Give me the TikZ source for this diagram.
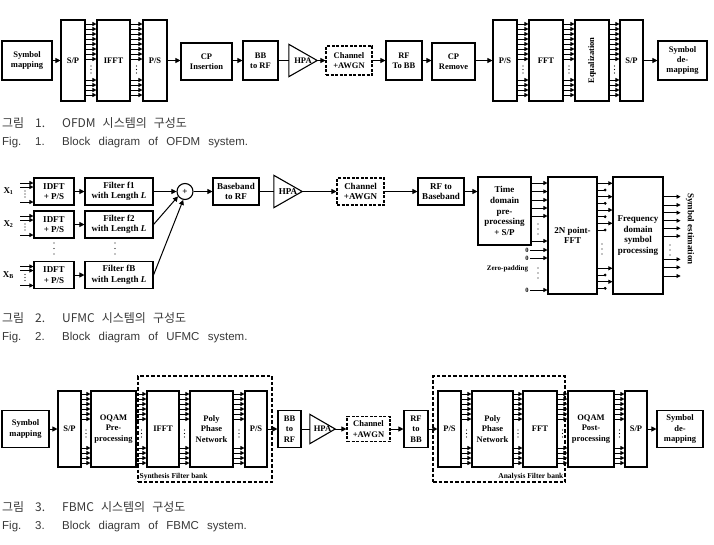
\documentclass[tikz,border=0pt]{standalone}
\usepackage{fontspec}
\usepackage{graphicx}
\setmainfont{Liberation Serif}
\newfontfamily\korfont{Noto Sans CJK KR}
\newfontfamily\figfont{Liberation Sans}
\usetikzlibrary{arrows.meta,shapes}

\newcommand{\lbl}{\fontsize{8.5}{10.3}\selectfont\bfseries}
\newcommand{\lblb}{\fontsize{9}{10.6}\selectfont\bfseries}
\newcommand{\kcapfont}{\korfont\fontsize{12}{13}\selectfont\spaceskip 7pt\relax}
\newcommand{\ecapfont}{\figfont\fontsize{11.5}{13}\selectfont\spaceskip 8.3pt\relax}
\newcommand{\vdts}[3][3.5]{\foreach \dy in {0,1,2} \fill (#2,#3+\dy*#1) circle (0.65pt);}
\newcommand{\bund}[3]{\foreach \y in {#3} \draw[sarr] (#1.east |- 0,\y) -- (#2.west |- 0,\y);}
\newcommand{\amptri}[1]{\draw[line width=1.1pt] (#1.north west) -- (#1.east) -- (#1.south west) -- cycle;}
\newcommand{\figcap}[6]{%
  \node[kcap] (#6k) at (2,#1) {\makebox[33pt][l]{그림}\makebox[27pt][l]{#3}#4};
  \node[ecap] (#6e) at (2,#2) {\makebox[33pt][l]{Fig.}\makebox[27pt][l]{#3}#5};}

\tikzset{
  blk/.style 2 args={draw, line width=1.1pt, minimum width=#1pt, minimum height=#2pt,
    inner sep=0pt, align=center, font=\lbl},
  chn/.style 2 args={blk={#1}{#2}, dash pattern=on 3pt off 1.5pt},
  amp/.style 2 args={minimum width=#1pt, minimum height=#2pt, inner sep=0pt, font=\lbl},
  fbank/.style 2 args={draw, line width=1.1pt, dash pattern=on 3.5pt off 2pt,
    minimum width=#1pt, minimum height=#2pt, inner sep=0pt},
  arr/.style={line width=1pt, -{Triangle[length=5pt,width=5pt]}},
  sarr/.style={line width=0.7pt, -{Triangle[length=4pt,width=4pt]}},
  darr/.style={line width=0.7pt, -{Circle[length=2.8pt]}},
  zlbl/.style={inner sep=1pt, font=\fontsize{6.5}{7}\selectfont\bfseries},
  kcap/.style={anchor=base west, inner sep=0pt, text=black!78, font=\kcapfont},
  ecap/.style={anchor=base west, inner sep=0pt, text=black!78, font=\ecapfont}
}

\begin{document}
\begin{tikzpicture}[x=1pt,y=-1pt]
\useasboundingbox (0,0) rectangle (714,544);

% OFDM
\node[blk={50}{39}] (smap) at (27,60.5) {Symbol\\mapping};
\node[blk={24}{81}] (sp1) at (73,60.5) {S/P};
\node[blk={33}{81}] (ifft) at (113.5,60.5) {IFFT};
\node[blk={24}{81}] (ps1) at (155,60.5) {P/S};
\node[blk={51}{37}] (cpins) at (206.5,61.5) {CP\\Insertion};
\node[blk={35}{39}] (bbrf) at (260.5,60.5) {BB\\to RF};
\node[amp={28}{32}] (hpa) at (303,60.5) {HPA};
\node[chn={46}{29}] (chan) at (349,60.5) {Channel\\+AWGN};
\node[blk={36}{39}] (rfbb) at (404,60.5) {RF\\To BB};
\node[blk={43}{37}] (cprem) at (453.5,61.5) {CP\\Remove};
\node[blk={24}{81}] (ps2) at (505,60.5) {P/S};
\node[blk={34}{81}] (fft) at (546,60.5) {FFT};
\node[blk={34}{81}] (equ) at (592,60.5) {\rotatebox{90}{Equalization}};
\node[blk={23}{81}] (sp2) at (631.5,60.5) {S/P};
\node[blk={49}{39}] (sdemap) at (682.5,60.5) {Symbol\\de-\\mapping};
\amptri{hpa}

\draw[arr] (smap) -- (sp1);
\draw[arr] (ps1.east) -- (cpins.west |- ps1);
\draw[arr] (cpins.east |- bbrf) -- (bbrf);
\draw[line width=1pt] (bbrf) -- (hpa);
\draw[arr] (hpa) -- (chan);
\draw[arr] (chan) -- (rfbb);
\draw[arr] (rfbb) -- (cprem.west |- rfbb);
\draw[arr] (cprem.east |- ps2) -- (ps2);
\draw[arr] (sp2) -- (sdemap);
\foreach \a/\b/\m in {sp1/ifft/91, ifft/ps1/136.5, ps2/fft/523, fft/equ/569, equ/sp2/614.5}{
  \bund{\a}{\b}{24,29,...,59,80,85,90,95}
  \vdts{\m}{66}
}

\figcap{127}{145}{1.}{OFDM 시스템의 구성도}{Block diagram of OFDM system.}{c1}

% UFMC
\foreach \n/\c in {1/191.5, 2/224.5, B/275}{
  \node[blk={40}{27}, font=\lblb] (idft\n) at (54,\c) {IDFT\\+ P/S};
  \node[blk={68}{27}, font=\lblb] (filt\n) at (119,\c) {Filter f\n\\with Length \textit{L}};
  \node[font=\lblb, inner sep=0pt] (x\n) at (8.5,\c) {X\textsubscript{\n}};
  \draw[arr] (idft\n) -- (filt\n);
  \foreach \o in {-8.5,-4.5,10.5}
    \draw[sarr] (idft\n.west |- 0,\c+\o) ++(-13,0) -- ++(13,0);
  \vdts[3]{25}{\c-0.5}
}
\vdts[5.5]{54}{243}
\vdts[5.5]{115}{243}
\node[draw, circle, line width=1.1pt, minimum size=16pt, inner sep=0pt, font=\lblb] (sum) at (185,191.5) {+};
\node[blk={46}{27}, font=\lblb] (bbrf2) at (236,191.5) {Baseband\\to RF};
\node[amp={28}{32}, font=\lblb] (hpa2) at (288,191.5) {HPA};
\node[chn={47}{27}, font=\lblb] (chan2) at (360.5,191.5) {Channel\\+AWGN};
\node[blk={46}{27}, font=\lblb] (rfbase) at (441,191.5) {RF to\\Baseband};
\node[blk={53}{68}, font=\lblb] (tdpre) at (504.5,211) {Time\\domain\\pre-\\processing\\+ S/P};
\node[blk={49}{117}, font=\lblb] (fft2n) at (572.5,235.5) {2N point-\\FFT};
\node[blk={50}{117}, font=\lblb] (fdsp) at (638,235.5) {Frequency\\domain\\symbol\\processing};
\amptri{hpa2}

\draw[arr] (filt1) -- (sum);
\draw[arr] (filt2.east) -- (sum.215);
\draw[arr] (filtB.east) -- (sum.258);
\draw[arr] (sum) -- (bbrf2);
\draw[line width=1pt] (bbrf2) -- (hpa2);
\draw[arr] (hpa2) -- (chan2);
\draw[arr] (chan2) -- (rfbase);
\draw[arr] (rfbase) -- (tdpre.west |- rfbase);
\bund{tdpre}{fft2n}{183,191.5,200,208,216,241}
\vdts[5]{538}{224}
\foreach \y in {250,258,290}{
  \node[zlbl] (z\y) at (527,\y) {0};
  \draw[sarr] (z\y) -- (fft2n.west |- z\y);
}
\vdts[5]{538}{268}
\node[inner sep=0pt, font=\fontsize{7}{8}\selectfont\bfseries] (zpad) at (507.5,269) {Zero-padding};
\bund{fft2n}{fdsp}{183.3,196.7,210,223.3,268.3,281.7}
\foreach \y in {190,203.3,216.7,230,275,288.3}
  \draw[darr] (fft2n.east |- 0,\y) -- ++(9,0);
\vdts[5]{602}{244}
\foreach \y in {196.7,205,212.7,220.7,228.3,236,259.3,267.3,276}
  \draw[sarr] (fdsp.east |- 0,\y) -- ++(17,0);
\vdts[5]{670}{245}
\node[rotate=-90, inner sep=0pt, font=\lblb] (sest) at (690,229) {Symbol estimation};

\figcap{322}{340.5}{2.}{UFMC 시스템의 구성도}{Block diagram of UFMC system.}{c2}

% FBMC
\node[fbank={134}{106}] (synth) at (205,429) {};
\node[fbank={132}{106}] (anal) at (499,429) {};
\node[anchor=south west, inner sep=2pt, font=\fontsize{7.5}{8}\selectfont\bfseries] (synthl) at (synth.south west) {Synthesis Filter bank};
\node[anchor=south east, inner sep=2pt, font=\fontsize{7.5}{8}\selectfont\bfseries] (anall) at (anal.south east) {Analysis Filter bank};
\node[blk={47}{37}] (smap3) at (25.5,429) {Symbol\\mapping};
\node[blk={23}{76}] (sp3) at (69.5,429) {S/P};
\node[blk={45}{76}] (oqpre) at (113.5,429) {OQAM\\Pre-\\processing};
\node[blk={32}{76}] (ifft3) at (163,429) {IFFT};
\node[blk={43}{76}] (ppn1) at (211.5,429) {Poly\\Phase\\Network};
\node[blk={22}{76}] (ps3) at (256,429) {P/S};
\node[blk={23}{37}] (bbrf3) at (289.5,429) {BB\\to\\RF};
\node[amp={25}{29}] (hpa3) at (322.5,429) {HPA};
\node[chn={43}{25}] (chan3) at (368.5,429) {Channel\\+AWGN};
\node[blk={24}{37}] (rfbb3) at (416,429) {RF\\to\\BB};
\node[blk={23}{76}] (ps4) at (449.5,429) {P/S};
\node[blk={41}{76}] (ppn2) at (492.5,429) {Poly\\Phase\\Network};
\node[blk={34}{76}] (fft3) at (540,429) {FFT};
\node[blk={46}{76}] (oqpost) at (591,429) {OQAM\\Post-\\processing};
\node[blk={22}{76}] (sp4) at (636,429) {S/P};
\node[blk={46}{37}] (sdemap3) at (680,429) {Symbol\\de-\\mapping};
\amptri{hpa3}

\draw[arr] (smap3) -- (sp3);
\draw[arr] (ps3) -- (bbrf3);
\draw[line width=1pt] (bbrf3) -- (hpa3);
\draw[arr] (hpa3) -- (chan3);
\draw[arr] (chan3) -- (rfbb3);
\draw[arr] (rfbb3) -- (ps4);
\draw[arr] (sp4) -- (sdemap3);
\foreach \a/\b/\m in {sp3/oqpre/86, oqpre/ifft3/141.5, ifft3/ppn1/184.5, ppn1/ps3/239,
    ps4/ppn2/466.5, ppn2/fft3/518, fft3/oqpost/562.5, oqpost/sp4/619.5}{
  \bund{\a}{\b}{394,399,...,419,448,453,458,463}
  \vdts{\m}{430}
}

\figcap{511}{529}{3.}{FBMC 시스템의 구성도}{Block diagram of FBMC system.}{c3}
\end{tikzpicture}
\end{document}
